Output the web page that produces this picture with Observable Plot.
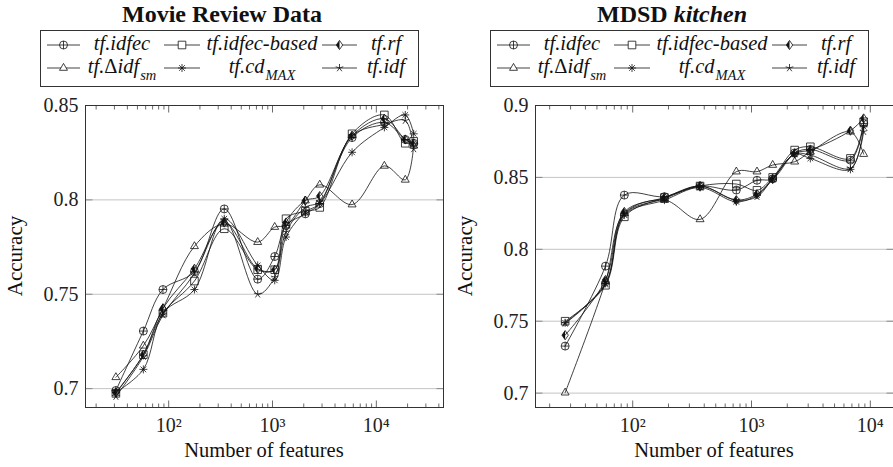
<!DOCTYPE html>
<html><head><meta charset="utf-8">
<script src="https://cdn.jsdelivr.net/npm/d3@7"></script>
<script src="https://cdn.jsdelivr.net/npm/@observablehq/plot@0.6"></script>
<style>
html,body{margin:0;padding:0;background:#fff;overflow:hidden;}
#wrap{position:relative;width:893px;height:467px;overflow:hidden;}
.panel{position:absolute;top:0;width:450px;height:467px;}
#overlay{position:absolute;left:0;top:0;}
</style></head>
<body>
<div id="wrap">
  <div class="panel" id="p1" style="left:0px"></div>
  <div class="panel" id="p2" style="left:450px"></div>
</div>
<script>
// ---------- data ----------
const seriesNames = ["tf.idfec", "tf.idfec-based", "tf.rf", "tf.Δidf_sm", "tf.cd_MAX", "tf.idf"];

// Movie Review Data
const mrX = [31, 57, 88, 177, 343, 720, 1050, 1350, 2070, 2850, 5840, 11950, 19000, 22900];
const mrIdfec      = [0.699, 0.7305, 0.7525, 0.762, 0.7952, 0.758, 0.770, 0.7864, 0.7926, 0.798, 0.833, 0.841, 0.832, 0.830];
const mrIdfecBased = [0.6975, 0.718, 0.740, 0.757, 0.7847, 0.763, 0.763, 0.790, 0.794, 0.796, 0.835, 0.845, 0.830, 0.831];
const mrRf         = [0.698, 0.718, 0.7425, 0.7635, 0.788, 0.7635, 0.763, 0.788, 0.7996, 0.802, 0.834, 0.843, 0.832, 0.830];
const mrDeltaIdf   = [0.706, 0.7227, 0.7425, 0.7754, 0.7873, 0.7776, 0.7856, 0.7864, 0.7996, 0.808, 0.7975, 0.818, 0.8106, 0.8287];
const mrCdMax      = [0.698, 0.7102, 0.740, 0.7525, 0.790, 0.7653, 0.7574, 0.7803, 0.7935, 0.798, 0.8252, 0.8384, 0.845, 0.835];
const mrIdf        = [0.6958, 0.717, 0.739, 0.761, 0.789, 0.750, 0.759, 0.783, 0.796, 0.799, 0.834, 0.840, 0.842, 0.827];
const mrYTicks = [0.7, 0.75, 0.8, 0.85];

// MDSD kitchen
const kitX = [27, 59, 85, 185, 369, 745, 1112, 1507, 2307, 3127, 6800, 8790];
const kitIdfec      = [0.7327, 0.7883, 0.8377, 0.8366, 0.844, 0.8412, 0.848, 0.849, 0.867, 0.8695, 0.862, 0.8875];
const kitIdfecBased = [0.750, 0.775, 0.8226, 0.836, 0.844, 0.8454, 0.841, 0.850, 0.869, 0.8713, 0.8632, 0.8887];
const kitRf         = [0.7403, 0.7786, 0.826, 0.836, 0.844, 0.8342, 0.8384, 0.849, 0.8667, 0.869, 0.8825, 0.891];
const kitDeltaIdf   = [0.7003, 0.7774, 0.825, 0.8342, 0.8208, 0.854, 0.854, 0.8586, 0.8609, 0.8678, 0.8818, 0.8662];
const kitCdMax      = [0.7489, 0.7763, 0.8238, 0.8342, 0.843, 0.833, 0.8377, 0.8486, 0.8662, 0.8632, 0.8556, 0.8852];
const kitIdf        = [0.7485, 0.7758, 0.8245, 0.8352, 0.844, 0.8342, 0.8366, 0.849, 0.8662, 0.8655, 0.8563, 0.8818];
const kitYTicks = [0.7, 0.75, 0.8, 0.85, 0.9];

const xMajorTicks = [100, 1000, 10000];

// ---------- symbols ----------
const R = s => Math.sqrt(s / Math.PI);
const oplus = {draw(c, s){const r = R(s); c.moveTo(r,0); c.arc(0,0,r,0,2*Math.PI); c.moveTo(-r,0); c.lineTo(r,0); c.moveTo(0,-r); c.lineTo(0,r);}};
const square = {draw(c, s){const r = R(s)*0.95; c.moveTo(-r,-r); c.lineTo(r,-r); c.lineTo(r,r); c.lineTo(-r,r); c.closePath();}};
const diamond = {draw(c, s){const r = R(s); c.moveTo(0,-r*1.15); c.lineTo(r*0.8,0); c.lineTo(0,r*1.15); c.lineTo(-r*0.8,0); c.closePath();}};
const halfDiamond = {draw(c, s){const r = R(s); c.moveTo(0,-r*1.15); c.lineTo(0,r*1.15); c.lineTo(-r*0.8,0); c.closePath();}};
const triangle = {draw(c, s){const r = R(s)*1.15; c.moveTo(0,-r); c.lineTo(r*0.866,r*0.5); c.lineTo(-r*0.866,r*0.5); c.closePath();}};
const asterisk = {draw(c, s){const r = R(s); for (let k=0;k<4;k++){const a = Math.PI/2 + k*Math.PI/4; c.moveTo(r*Math.cos(a), r*Math.sin(a)); c.lineTo(-r*Math.cos(a), -r*Math.sin(a));}}};
const star = {draw(c, s){const r = R(s); for (let k=0;k<5;k++){const a = -Math.PI/2 + k*2*Math.PI/5; c.moveTo(0,0); c.lineTo(r*Math.cos(a), r*Math.sin(a));}}};
const tickUp = {draw(c, s){const l = R(s); c.moveTo(0,0); c.lineTo(0,-l);}};
const tickDown = {draw(c, s){const l = R(s); c.moveTo(0,0); c.lineTo(0,l);}};
const tickRight = {draw(c, s){const l = R(s); c.moveTo(0,0); c.lineTo(l,0);}};
const tickLeft = {draw(c, s){const l = R(s); c.moveTo(0,0); c.lineTo(-l,0);}};
const seriesSymbols = [oplus, square, diamond, triangle, asterisk, star];

const sup = {"0":"⁰","1":"¹","2":"²","3":"³","4":"⁴","5":"⁵"};
const fontFam = "'Liberation Serif', 'Times New Roman', serif";

function panel(xs, seriesValues, xDomain, yDomain, yTicks) {
  const data = [];
  seriesValues.forEach((vals, si) => vals.forEach((v, i) => data.push({name: seriesNames[si], si, x: xs[i], y: v})));
  const minor = [];
  for (let e = 1; e <= 4; e++) for (let m = 2; m <= 9; m++) {
    const v = m * 10 ** e; if (v >= xDomain[0] && v <= xDomain[1]) minor.push(v);
  }
  const major = xMajorTicks.filter(v => v >= xDomain[0] && v <= xDomain[1]);
  const marks = [
    Plot.gridY(yTicks, {stroke: "#c4c4c4", strokeOpacity: 1, strokeWidth: 1}),
    Plot.dot(minor, {x: d => d, frameAnchor: "bottom", symbol: tickUp, r: 4, stroke: "#444", strokeWidth: 0.8}),
    Plot.dot(minor, {x: d => d, frameAnchor: "top", symbol: tickDown, r: 4, stroke: "#444", strokeWidth: 0.8}),
    Plot.dot(major, {x: d => d, frameAnchor: "bottom", symbol: tickUp, r: 7, stroke: "#444", strokeWidth: 0.8}),
    Plot.dot(major, {x: d => d, frameAnchor: "top", symbol: tickDown, r: 7, stroke: "#444", strokeWidth: 0.8}),
    Plot.dot(yTicks, {y: d => d, frameAnchor: "left", symbol: tickRight, r: 7, stroke: "#777", strokeWidth: 0.8}),
    Plot.dot(yTicks, {y: d => d, frameAnchor: "right", symbol: tickLeft, r: 7, stroke: "#777", strokeWidth: 0.8}),
    Plot.axisY(yTicks, {tickSize: 0, tickPadding: 7, label: null, fontSize: 20, tickFormat: d => String(+d.toFixed(2)), fill: "#222"}),
    Plot.axisX(major, {tickSize: 0, tickPadding: 10, label: null, fontSize: 20, fill: "#222",
      tickFormat: d => "10" + String(Math.round(Math.log10(d))).split("").map(ch => sup[ch]).join("")}),
    Plot.line(data, {x: "x", y: "y", z: "name", curve: "catmull-rom", stroke: "#111", strokeWidth: 0.8})
  ];
  seriesSymbols.forEach((sym, si) => {
    const sub = data.filter(d => d.si === si);
    marks.push(Plot.dot(sub, {x: "x", y: "y", symbol: sym, r: 4, stroke: "#111", strokeWidth: 0.8, fill: "none"}));
    if (sym === diamond) marks.push(Plot.dot(sub, {x: "x", y: "y", symbol: halfDiamond, r: 4, fill: "#111", stroke: "none"}));
  });
  marks.push(Plot.frame({stroke: "#333", strokeWidth: 1}));
  return Plot.plot({
    width: 450, height: 467,
    marginLeft: 85, marginRight: 7, marginTop: 105, marginBottom: 60,
    x: {type: "log", domain: xDomain},
    y: {domain: yDomain},
    style: {fontFamily: fontFam, fontSize: "20px", background: "transparent", color: "#111"},
    marks
  });
}

document.getElementById("p1").appendChild(panel(mrX,
  [mrIdfec, mrIdfecBased, mrRf, mrDeltaIdf, mrCdMax, mrIdf],
  [15.8, 44360], [0.69, 0.85], mrYTicks));
document.getElementById("p2").appendChild(panel(kitX,
  [kitIdfec, kitIdfecBased, kitRf, kitDeltaIdf, kitCdMax, kitIdf],
  [15.2, 15670], [0.69, 0.9], kitYTicks));

// ---------- overlay: titles, legends, axis labels ----------
const svg = d3.select("#wrap").append("svg").attr("id", "overlay")
  .attr("width", 893).attr("height", 467)
  .style("font-family", fontFam);

function symPath(sym, r) { const p = d3.path(); sym.draw(p, r * r * Math.PI); return p.toString(); }

const legendCols = [{x0: 47, x1: 80, tc: 122}, {x0: 164, x1: 200, tc: 262}, {x0: 322, x1: 357, tc: 386}];
const legendRows = [45, 68];

function decorate(ox, titleParts) {
  const g = svg.append("g").attr("transform", `translate(${ox},0)`);
  // title
  const t = g.append("text").attr("x", 222).attr("y", 22).attr("text-anchor", "middle")
    .attr("font-size", 24).attr("font-weight", "bold").attr("fill", "#111");
  titleParts.forEach(p => t.append("tspan").text(p.text).attr("font-style", p.italic ? "italic" : "normal"));
  // legend box
  g.append("rect").attr("x", 40.5).attr("y", 30.5).attr("width", 378).attr("height", 56)
    .attr("fill", "white").attr("stroke", "#333").attr("stroke-width", 1);
  seriesNames.forEach((name, i) => {
    const col = legendCols[i % 3], y = legendRows[Math.floor(i / 3)];
    const mx = (col.x0 + col.x1) / 2;
    g.append("line").attr("x1", col.x0).attr("x2", col.x1).attr("y1", y).attr("y2", y)
      .attr("stroke", "#111").attr("stroke-width", 0.8);
    g.append("path").attr("d", symPath(seriesSymbols[i], 4)).attr("transform", `translate(${mx},${y})`)
      .attr("fill", "white").attr("stroke", "#111").attr("stroke-width", 0.8);
    if (seriesSymbols[i] === diamond)
      g.append("path").attr("d", symPath(halfDiamond, 4)).attr("transform", `translate(${mx},${y})`).attr("fill", "#111");
    const txt = g.append("text").attr("x", col.tc).attr("y", y + 5).attr("text-anchor", "middle")
      .attr("font-size", 20.5).attr("font-style", "italic").attr("fill", "#111");
    const parts = name.split("_");
    const main = parts[0];
    if (main.includes("Δ")) {
      const [a, b] = main.split("Δ");
      txt.append("tspan").text(a);
      txt.append("tspan").text("Δ").attr("font-style", "normal");
      txt.append("tspan").text(b);
    } else {
      txt.append("tspan").text(main);
    }
    if (parts[1]) txt.append("tspan").text(parts[1]).attr("font-size", 14.5).attr("dy", 7).attr("dx", 1);
  });
  // axis labels
  g.append("text").attr("x", 264).attr("y", 457).attr("text-anchor", "middle")
    .attr("font-size", 20.5).attr("fill", "#111").text("Number of features");
  g.append("text").attr("transform", "translate(22,256) rotate(-90)").attr("text-anchor", "middle")
    .attr("font-size", 21).attr("fill", "#111").text("Accuracy");
}
decorate(0, [{text: "Movie Review Data"}]);
decorate(450, [{text: "MDSD "}, {text: "kitchen", italic: true}]);
</script>
</body></html>
